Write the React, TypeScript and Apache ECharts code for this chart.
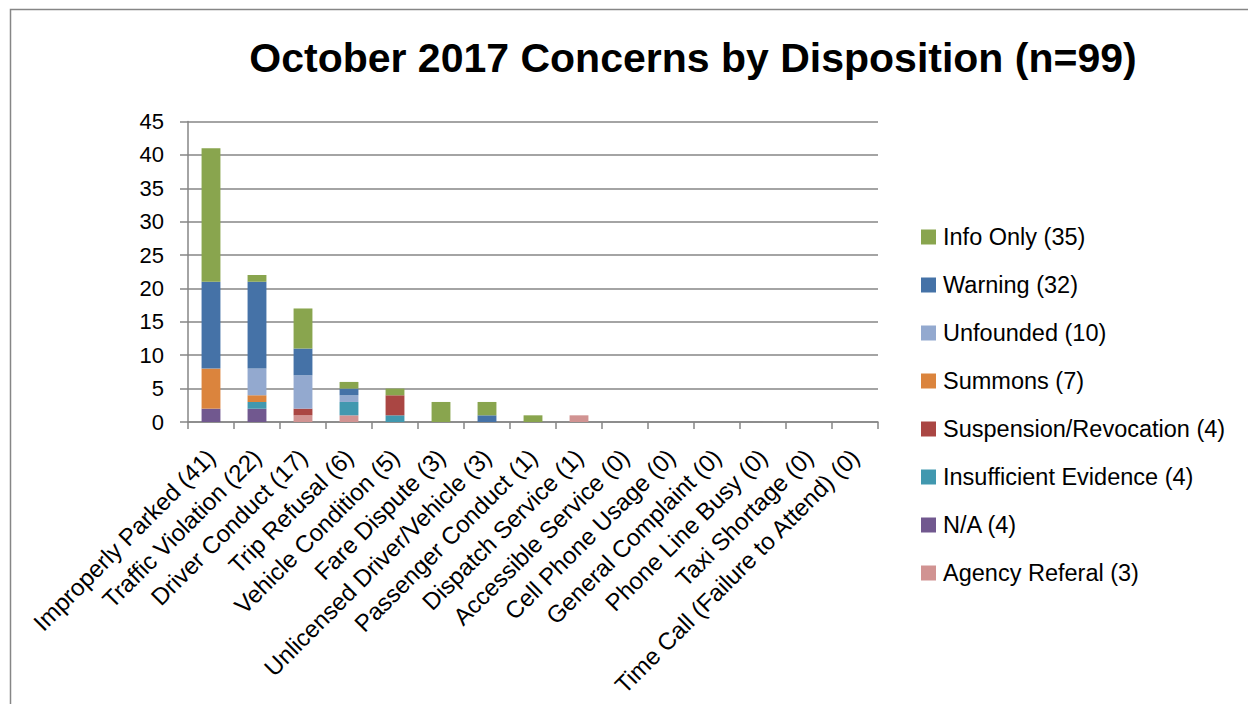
import React, { useEffect, useRef } from "react";
import * as echarts from "echarts";

const categories = [
  "Improperly Parked (41)",
  "Traffic Violation (22)",
  "Driver Conduct (17)",
  "Trip Refusal (6)",
  "Vehicle Condition (5)",
  "Fare Dispute (3)",
  "Unlicensed Driver/Vehicle (3)",
  "Passenger Conduct (1)",
  "Dispatch Service (1)",
  "Accessible Service (0)",
  "Cell Phone Usage (0)",
  "General Complaint (0)",
  "Phone Line Busy (0)",
  "Taxi Shortage (0)",
  "Time Call (Failure to Attend) (0)",
];

// stacked bottom -> top
const agencyReferal = [0, 0, 1, 1, 0, 0, 0, 0, 1, 0, 0, 0, 0, 0, 0];
const notApplicable = [2, 2, 0, 0, 0, 0, 0, 0, 0, 0, 0, 0, 0, 0, 0];
const insufficientEvidence = [0, 1, 0, 2, 1, 0, 0, 0, 0, 0, 0, 0, 0, 0, 0];
const suspensionRevocation = [0, 0, 1, 0, 3, 0, 0, 0, 0, 0, 0, 0, 0, 0, 0];
const summons = [6, 1, 0, 0, 0, 0, 0, 0, 0, 0, 0, 0, 0, 0, 0];
const unfounded = [0, 4, 5, 1, 0, 0, 0, 0, 0, 0, 0, 0, 0, 0, 0];
const warning = [13, 13, 4, 1, 0, 0, 1, 0, 0, 0, 0, 0, 0, 0, 0];
const infoOnly = [20, 1, 6, 1, 1, 3, 2, 1, 0, 0, 0, 0, 0, 0, 0];

const seriesDefs = [
  { name: "Agency Referal (3)", data: agencyReferal, color: "#D19392" },
  { name: "N/A (4)", data: notApplicable, color: "#71588F" },
  { name: "Insufficient Evidence (4)", data: insufficientEvidence, color: "#4198AF" },
  { name: "Suspension/Revocation (4)", data: suspensionRevocation, color: "#AA4643" },
  { name: "Summons (7)", data: summons, color: "#DB843D" },
  { name: "Unfounded (10)", data: unfounded, color: "#93A9CF" },
  { name: "Warning (32)", data: warning, color: "#4572A7" },
  { name: "Info Only (35)", data: infoOnly, color: "#89A54E" },
];

const yTicks = { min: 0, max: 45, interval: 5 };

export default function App() {
  const ref = useRef<HTMLDivElement>(null);
  useEffect(() => {
    if (!ref.current) return;
    const chart = echarts.init(ref.current, null, { renderer: "svg" });
    const font = "Liberation Sans, Arial, sans-serif";
    chart.setOption({
      animation: false,
      backgroundColor: "#fff",
      textStyle: { fontFamily: font },
      title: {
        text: "October 2017 Concerns by Disposition (n=99)",
        left: 693,
        top: 37,
        padding: 0,
        textAlign: "center",
        textStyle: { fontFamily: font, fontSize: 41, fontWeight: "bold", color: "#000" },
      },
      graphic: [
        {
          type: "rect",
          shape: { x: 10.5, y: 9.5, width: 1260, height: 720 },
          style: { fill: "none", stroke: "#868686", lineWidth: 1.5 },
          silent: true,
        },
      ],
      legend: {
        orient: "vertical",
        left: 921,
        top: 225,
        padding: 0,
        itemWidth: 15,
        itemHeight: 15,
        itemGap: 24,
        icon: "rect",
        data: seriesDefs.map((s) => s.name).reverse(),
        textStyle: {
          fontFamily: font,
          fontSize: 23.5,
          lineHeight: 24,
          color: "#000",
          padding: [0, 0, 0, 2],
        },
      },
      grid: { left: 188, top: 121.5, right: 378, bottom: 290, containLabel: false },
      xAxis: {
        type: "category",
        data: categories,
        axisLine: { lineStyle: { color: "#868686", width: 1.5 } },
        axisTick: { show: true, length: 7, lineStyle: { color: "#868686", width: 1.5 } },
        axisLabel: {
          rotate: 45,
          interval: 0,
          fontFamily: font,
          fontSize: 24,
          color: "#000",
          margin: 31,
        },
      },
      yAxis: {
        type: "value",
        min: yTicks.min,
        max: yTicks.max,
        interval: yTicks.interval,
        axisLine: { show: true, lineStyle: { color: "#868686", width: 1.5 } },
        axisTick: { show: true, length: 8, lineStyle: { color: "#868686", width: 1.5 } },
        splitLine: { lineStyle: { color: "#868686", width: 1.5 } },
        axisLabel: { fontFamily: font, fontSize: 22, color: "#000", margin: 24 },
      },
      series: seriesDefs.map((s) => ({
        name: s.name,
        type: "bar",
        stack: "total",
        data: s.data,
        barWidth: "41%",
        itemStyle: { color: s.color },
      })),
    });
    return () => chart.dispose();
  }, []);
  return <div ref={ref} style={{ width: 1256, height: 712, margin: -8 }} />;
}
